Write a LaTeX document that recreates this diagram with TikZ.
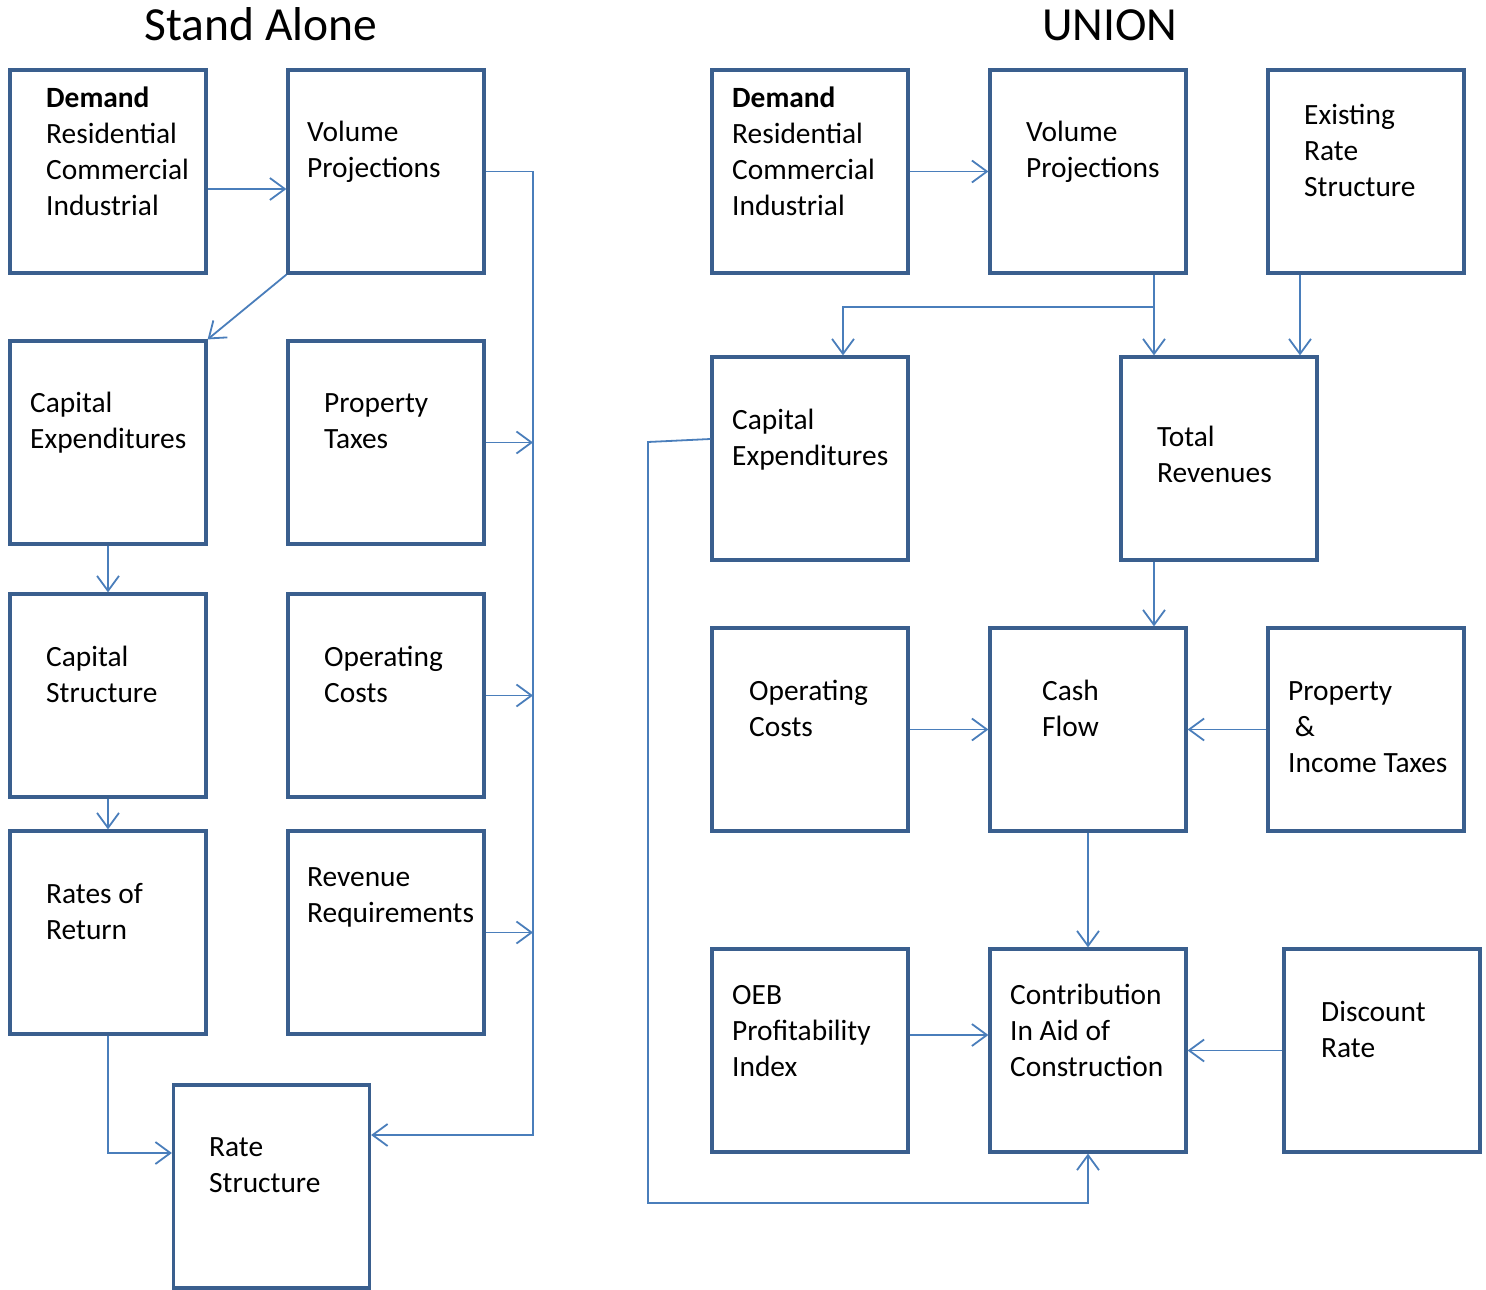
\documentclass[tikz,border=0pt]{standalone}
\usepackage{fontspec}
\setmainfont{Carlito}
\usetikzlibrary{arrows.meta}
\definecolor{boxc}{HTML}{3A5F8E}
\definecolor{linec}{HTML}{4A7EBB}
\tikzset{
  box/.style={draw=boxc, line width=3.2pt, minimum width=196pt, minimum height=203pt, inner sep=0pt, fill=white},
  lbl/.style={anchor=north west, inner sep=0pt, align=left, font=\fontsize{29.4}{36}\selectfont},
  ttl/.style={anchor=base, inner sep=0pt, font=\fontsize{47.5}{56}\selectfont},
  arr/.style={draw=linec, line width=1.8pt, -{Straight Barb[length=15pt,width=22pt,line width=1.8pt]}},
  ln/.style={draw=linec, line width=1.8pt}
}
\newcommand{\st}{\strut}
\begin{document}
\begin{tikzpicture}[x=1pt,y=-1pt]
\useasboundingbox (0,0) rectangle (1486,1290);
% titles
\node[ttl] (t1) at (261,41) {Stand Alone};
\node[ttl] (t2) at (1110,41) {UNION};
% left boxes
\node[box] (L1) at (108,171.5) {};
\node[box] (L2) at (386,171.5) {};
\node[box] (L3) at (108,442.5) {};
\node[box] (L4) at (386,442.5) {};
\node[box] (L5) at (108,695.5) {};
\node[box] (L6) at (386,695.5) {};
\node[box] (L7) at (108,932.5) {};
\node[box] (L8) at (386,932.5) {};
\node[box] (L9) at (271.5,1186.5) {};
% right boxes
\node[box] (R1) at (810,171.5) {};
\node[box] (R2) at (1088,171.5) {};
\node[box] (R3) at (1366,171.5) {};
\node[box] (R4) at (810,458.5) {};
\node[box] (R5) at (1219,458.5) {};
\node[box] (R7) at (810,729.5) {};
\node[box] (R8) at (1088,729.5) {};
\node[box] (R9) at (1366,729.5) {};
\node[box] (R10) at (810,1050.5) {};
\node[box] (R11) at (1088,1050.5) {};
\node[box] (R12) at (1382,1050.5) {};
% left labels
\node[lbl] (l1) at (46,82) {\st\textbf{Demand}\\\st Residential\\\st Commercial\\\st Industrial};
\node[lbl] (l2) at (307,116) {\st Volume\\\st Projections};
\node[lbl] (l3) at (30,387) {\st Capital\\\st Expenditures};
\node[lbl] (l4) at (324,387) {\st Property\\\st Taxes};
\node[lbl] (l5) at (46,641) {\st Capital\\\st Structure};
\node[lbl] (l6) at (324,641) {\st Operating\\\st Costs};
\node[lbl] (l7) at (46,878) {\st Rates of\\\st Return};
\node[lbl] (l8) at (307,861) {\st Revenue\\\st Requirements};
\node[lbl] (l9) at (209,1131) {\st Rate\\\st Structure};
% right labels
\node[lbl] (r1) at (732,82) {\st\textbf{Demand}\\\st Residential\\\st Commercial\\\st Industrial};
\node[lbl] (r2) at (1026,116) {\st Volume\\\st Projections};
\node[lbl] (r3) at (1304,99) {\st Existing\\\st Rate\\\st Structure};
\node[lbl] (r4) at (732,404) {\st Capital\\\st Expenditures};
\node[lbl] (r5) at (1157,421) {\st Total\\\st Revenues};
\node[lbl] (r7) at (749,675) {\st Operating\\\st Costs};
\node[lbl] (r8) at (1042,675) {\st Cash\\\st Flow};
\node[lbl] (r9) at (1288,675) {\st Property\\\st\ \&\\\st Income Taxes};
\node[lbl] (r10) at (732,979) {\st OEB\\\st Profitability\\\st Index};
\node[lbl] (r11) at (1010,979) {\st Contribution\\\st In Aid of\\\st Construction};
\node[lbl] (r12) at (1321,996) {\st Discount\\\st Rate};
% left connectors
\coordinate (bus) at (533,1135);
\draw[arr] ([yshift=-17.5pt]L1.east) -- ([yshift=-17.5pt]L2.west);
\draw[arr] (L2.south west) -- (L3.north east);
\draw[arr] (L2.east) -| (bus) -- (L9.east |- bus);
\draw[arr] (L4.east) -- (L4.east -| bus);
\draw[arr] (L6.east) -- (L6.east -| bus);
\draw[arr] (L8.east) -- (L8.east -| bus);
\draw[arr] (L3.south) -- (L5.north);
\draw[arr] (L5.south) -- (L7.north);
\draw[arr] (L7.south) |- ([yshift=33.5pt]L9.west);
% right connectors
\draw[arr] (R1.east) -- (R2.west);
\coordinate (vb) at ([xshift=66pt]R2.south);
\coordinate (j) at (1154,307);
\draw[arr] (vb) -- (vb |- R5.north);
\draw[arr] (j) -| ([xshift=33pt]R4.north);
\coordinate (eb) at ([xshift=-66pt]R3.south);
\draw[arr] (eb) -- (eb |- R5.north);
\coordinate (tb) at ([xshift=-65pt]R5.south);
\draw[arr] (tb) -- (tb |- R8.north);
\draw[arr] (R7.east) -- (R8.west);
\draw[arr] (R9.west) -- (R8.east);
\draw[arr] (R8.south) -- (R11.north);
\draw[arr] ([yshift=15.5pt]R10.east) -- ([yshift=15.5pt]R11.west);
\draw[arr] (R12.west) -- (R12.west -| R11.east);
\coordinate (c1) at (648,442);
\coordinate (c2) at (648,1203);
\draw[arr] ([yshift=19.5pt]R4.west) -- (c1) -- (c2) -| (R11.south);
\end{tikzpicture}
\end{document}
